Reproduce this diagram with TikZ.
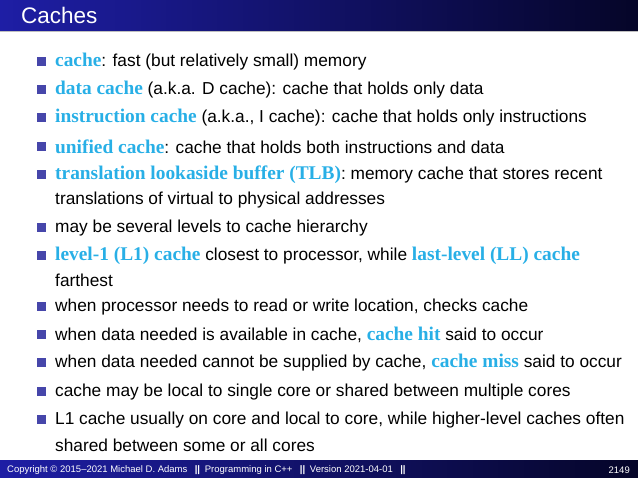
\documentclass[tikz,border=0pt]{standalone}
\usepackage{fontspec}
\setmainfont{Liberation Sans}
\newfontfamily\termfont{Liberation Serif}[Scale=1.12]
\definecolor{term}{RGB}{40,175,230}
\definecolor{hdrL}{RGB}{30,30,165}
\definecolor{hdrR}{RGB}{5,5,40}
\definecolor{bul}{RGB}{70,70,170}
\newcommand{\tm}[1]{{\termfont\bfseries\color{term}#1}}
\begin{document}
\begin{tikzpicture}[x=1pt,y=-1pt,
  itm/.style={anchor=west,inner sep=0pt,font=\fontsize{17.3}{19}\selectfont},
  bx/.style={fill=bul,minimum size=9pt,inner sep=0pt}]
\useasboundingbox (0,0) rectangle (638,478);
\shade[left color=hdrL,right color=hdrR] (0,0) rectangle (638,31);
\fill[black!25] (0,31) rectangle (638,32.5);
\node[anchor=west,text=white,font=\fontsize{22.5}{24}\selectfont,inner sep=0pt] (title) at (21,15.5) {Caches};
\shade[left color=hdrL,right color=hdrR] (0,461) rectangle (638,478);
\node[anchor=west,text=white,font=\fontsize{9.5}{10}\selectfont,inner sep=0pt] (foot) at (7,470) {Copyright \textcopyright\ 2015--2021 Michael D. Adams \enspace\textbf{||}\enspace Programming in C++ \enspace\textbf{||}\enspace Version 2021-04-01 \enspace\textbf{||}};
\node[anchor=east,text=white,font=\fontsize{9.5}{10}\selectfont,inner sep=0pt] (page) at (630,470) {2149};
\foreach \y [count=\i] in {62,90,118,147,175,228,256,307,335,363,392,420}
  \node[bx] (b\i) at (41.5,\y) {};
\node[itm] (t1) at (55,62) {\tm{cache}: fast (but relatively small) memory};
\node[itm] (t2) at (55,90) {\tm{data cache} (a.k.a. D cache): cache that holds only data};
\node[itm] (t3) at (55,118) {\tm{instruction cache} (a.k.a., I cache): cache that holds only instructions};
\node[itm] (t4) at (55,147) {\tm{unified cache}: cache that holds both instructions and data};
\node[itm] (t5) at (55,175) {\tm{translation lookaside buffer (TLB)}: memory cache that stores recent};
\node[itm] (t5b) at (55,200) {translations of virtual to physical addresses};
\node[itm] (t6) at (55,228) {may be several levels to cache hierarchy};
\node[itm] (t7) at (55,256) {\tm{level-1 (L1) cache} closest to processor, while \tm{last-level (LL) cache}};
\node[itm] (t7b) at (55,280) {farthest};
\node[itm] (t8) at (55,307) {when processor needs to read or write location, checks cache};
\node[itm] (t9) at (55,335) {when data needed is available in cache, \tm{cache hit} said to occur};
\node[itm] (t10) at (55,363) {when data needed cannot be supplied by cache, \tm{cache miss} said to occur};
\node[itm] (t11) at (55,392) {cache may be local to single core or shared between multiple cores};
\node[itm] (t12) at (55,420) {L1 cache usually on core and local to core, while higher-level caches often};
\node[itm] (t12b) at (55,445) {shared between some or all cores};
\end{tikzpicture}
\end{document}
